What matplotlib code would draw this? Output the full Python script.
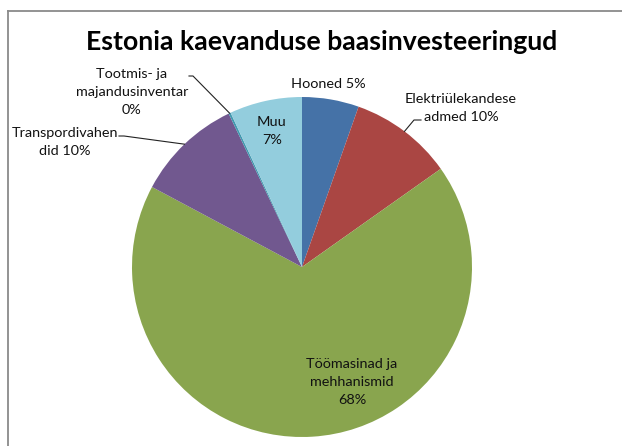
import numpy as np
import matplotlib
matplotlib.use("Agg")
import matplotlib.pyplot as plt

title = "Estonia kaevanduse baasinvesteeringud"
categories = ["Hooned", "Elektriülekandeseadmed", "Töömasinad ja mehhanismid",
              "Transpordivahendid", "Tootmis- ja majandusinventar", "Muu"]
values = [5.4, 9.8, 67.6, 10.1, 0.2, 6.9]
colors = ["#4572A7", "#AA4643", "#89A54E", "#71588F", "#4198AF", "#93CDDD"]

W, H = 622, 446
plt.rcParams['font.family'] = ['Lato', 'DejaVu Sans']

fig = plt.figure(figsize=(W / 100, H / 100), dpi=100)
ax = fig.add_axes([0, 0, 1, 1])

def Y(y):
    return H - y

cx, cy, R = 302, 267, 170
wedges, _ = ax.pie(values, colors=colors, startangle=90, counterclock=False,
                   center=(cx, Y(cy)), radius=R,
                   wedgeprops=dict(linewidth=0))
ax.set_xlim(0, W)
ax.set_ylim(0, H)
ax.set_aspect('equal')
ax.axis('off')

total = sum(values)
pcts = [f"{round(v / total * 100)}%" for v in values]

def edge_point(i, r=R):
    w = wedges[i]
    a = np.deg2rad((w.theta1 + w.theta2) / 2)
    return cx + r * np.cos(a), Y(cy) + r * np.sin(a)

fs = 10.4
txt = dict(fontsize=fs, color="#111111", ha="center", va="center", linespacing=1.55)

# labels (text wrapping as in the reference)
ax.text(328, Y(84), f"{categories[0]} {pcts[0]}", **txt)
ax.text(461, Y(108), f"Elektriülekandese\nadmed {pcts[1]}", **txt)
ax.text(352, Y(382), f"Töömasinad ja\nmehhanismid\n{pcts[2]}", **txt)
ax.text(65, Y(142), f"Transpordivahen\ndid {pcts[3]}", **txt)
ax.text(132, Y(92), f"Tootmis- ja\nmajandusinventar\n{pcts[4]}", **txt)
ax.text(272, Y(131), f"{categories[5]}\n{pcts[5]}", **txt)

# leader lines
lc = dict(color="#222222", lw=0.8)
ex, ey = edge_point(1)
ax.plot([421, 414, ex], [Y(120), Y(120), ey], **lc)
ex, ey = edge_point(3)
ax.plot([119, 124, ex], [Y(136), Y(136), ey], **lc)
ex, ey = edge_point(4)
ax.plot([189, 193, ex], [Y(76), Y(76), ey], **lc)

# title
ax.text(322, Y(42), title, fontsize=19.2, fontweight="bold", ha="center", va="center",
        color="#000000")

# chart border (cropped at right/bottom)
ax.plot([7.5, W + 2], [Y(10.5), Y(10.5)], color="#8a8a8a", lw=1.3, clip_on=False)
ax.plot([7.5, 7.5], [Y(10.5), -2], color="#8a8a8a", lw=1.3, clip_on=False)

fig.savefig("out.png", dpi=100)
